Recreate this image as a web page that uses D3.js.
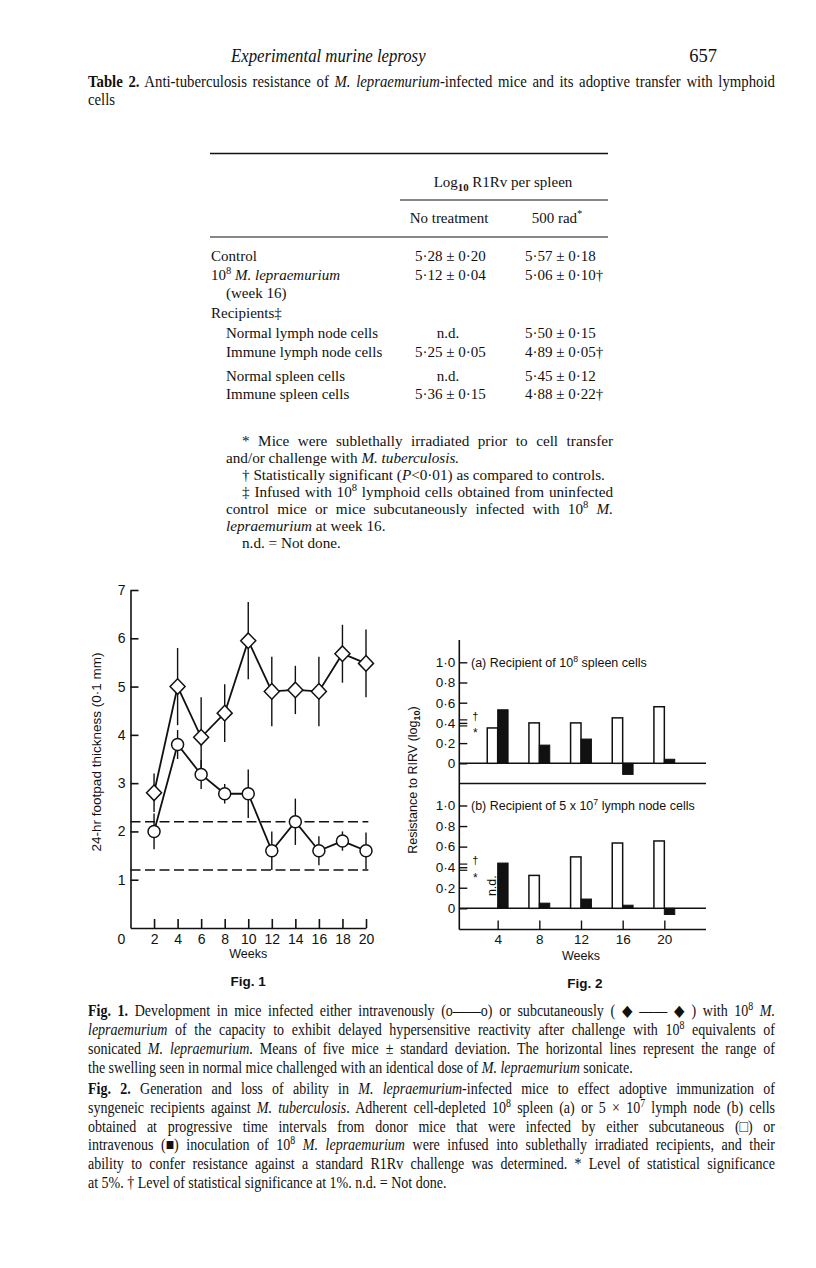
<!DOCTYPE html>
<html><head><meta charset="utf-8">
<script src="https://cdn.jsdelivr.net/npm/d3@7"></script>
<style>
html,body{margin:0;padding:0;background:#fff;}
svg{display:block;}
text{white-space:pre;}
</style></head>
<body><svg id="page" width="816" height="1268"></svg>
<script>
// ---------------- DATA ----------------
// Table 2
const tableRows = ["Control", "10^8 M. lepraemurium", "(week 16)", "Recipients‡", "Normal lymph node cells", "Immune lymph node cells", "Normal spleen cells", "Immune spleen cells"];
const colNoTreatment = ["5·28 ± 0·20", "5·12 ± 0·04", "", "", "n.d.", "5·25 ± 0·05", "n.d.", "5·36 ± 0·15"];
const col500rad = ["5·57 ± 0·18", "5·06 ± 0·10†", "", "", "5·50 ± 0·15", "4·89 ± 0·05†", "5·45 ± 0·12", "4·88 ± 0·22†"];

// Fig. 1 (24-hr footpad thickness, 0·1 mm)
const weeksFig1 = [2, 4, 6, 8, 10, 12, 14, 16, 18, 20];
const subcutMean = [2.8, 5.0, 3.95, 4.45, 5.95, 4.9, 4.93, 4.9, 5.68, 5.48];
const subcutSD   = [0.4, 0.8, 0.83, 0.6, 0.8, 0.72, 0.5, 0.72, 0.6, 0.7];
const ivMean     = [2.0, 3.8, 3.18, 2.78, 2.78, 1.6, 2.2, 1.6, 1.8, 1.6];
const ivSD       = [0.37, 0.3, 0.3, 0.2, 0.5, 0.4, 0.48, 0.3, 0.2, 0.38];
const normalRange = [1.2, 2.2];
const fig1YTicks = [1, 2, 3, 4, 5, 6, 7];
const fig1XTicks = [2, 4, 6, 8, 10, 12, 14, 16, 18, 20];

// Fig. 2 (resistance to R1Rv, log10)
const weeksFig2 = [4, 8, 12, 16, 20];
const spleenSubcut = [0.35, 0.40, 0.40, 0.45, 0.56];
const spleenIV     = [0.53, 0.18, 0.24, -0.11, 0.04];
const lymphSubcut  = [null, 0.32, 0.50, 0.635, 0.655];
const lymphIV      = [0.44, 0.05, 0.09, 0.03, -0.06];
const fig2YTicks = [0, 0.2, 0.4, 0.6, 0.8, 1.0];
const sigLevels = {dagger: 0.43, star: 0.37};

// ---------------- HELPERS ----------------
const svg = d3.select("#page");
const SERIF = "'Liberation Serif','Times New Roman',serif";
const SANS = "'Liberation Sans',Arial,sans-serif";

function rich(g, x, y, segs, o) {
  o = o || {};
  const size = o.size || 14;
  const sx = o.sx || 1;
  const t = g.append("text").attr("x", x / sx).attr("y", y)
    .style("font-family", o.family || SERIF).style("font-size", size + "px")
    .attr("text-anchor", o.anchor || "start").attr("fill", "#111");
  if (o.transform) t.attr("transform", o.transform);
  else if (sx !== 1) t.attr("transform", `scale(${sx},1)`);
  let shift = 0, full = "";
  segs.forEach(s => {
    const [str, c] = Array.isArray(s) ? s : [s, ""];
    full += str;
    const ts = t.append("tspan").text(str);
    if (c && c.includes("i")) ts.style("font-style", "italic");
    if (c && c.includes("b")) ts.style("font-weight", "bold");
    if (c === "sup") { const d = -size * 0.38; ts.attr("dy", d - shift).style("font-size", (size * 0.7) + "px"); shift = d; }
    else if (c === "sub") { const d = size * 0.25; ts.attr("dy", d - shift).style("font-size", (size * 0.72) + "px"); shift = d; }
    else if (shift !== 0) { ts.attr("dy", -shift); shift = 0; }
  });
  if (o.width) {
    const nat = t.node().getComputedTextLength();
    const n = (full.match(/ /g) || []).length;
    if (n > 0) t.style("word-spacing", ((o.width / sx - nat) / n) + "px");
  }
  return t;
}

// ---------------- PAGE HEADER ----------------
const head = svg.append("g");
rich(head, 231, 62, [["Experimental murine leprosy", "i"]], {size: 18, sx: 0.93});
rich(head, 717, 62, ["657"], {size: 18.5, anchor: "end"});

// ---------------- TABLE ----------------
const L = 88, R = 775;
const tg = svg.append("g");
rich(tg, L, 87, [["Table 2.", "b"], " Anti-tuberculosis resistance of ", ["M. lepraemurium", "i"], "-infected mice and its adoptive transfer with lymphoid"], {size: 17, sx: 0.87, width: R - L});
rich(tg, L, 105, ["cells"], {size: 17, sx: 0.87});

tg.append("line").attr("x1", 210).attr("x2", 608).attr("y1", 153.5).attr("y2", 153.5).attr("stroke", "#111").attr("stroke-width", 1.6);
rich(tg, 503, 187, ["Log", ["10", "sub"], " R1Rv per spleen"], {size: 15, anchor: "middle"});
tg.append("line").attr("x1", 400).attr("x2", 608).attr("y1", 200).attr("y2", 200).attr("stroke", "#111").attr("stroke-width", 1);
rich(tg, 449, 223, ["No treatment"], {size: 15, anchor: "middle"});
rich(tg, 557, 223, ["500 rad", ["*", "sup"]], {size: 15, anchor: "middle"});
tg.append("line").attr("x1", 210).attr("x2", 608).attr("y1", 237).attr("y2", 237).attr("stroke", "#111").attr("stroke-width", 1);

const rowY = [260.5, 279.5, 298, 318, 338, 356.5, 380.5, 399];
const indent = [0, 0, 1, 0, 1, 1, 1, 1];
tableRows.forEach((r, i) => {
  let segs;
  if (r.startsWith("10^8")) segs = ["10", ["8", "sup"], " ", ["M. lepraemurium", "i"]];
  else segs = [r];
  rich(tg, indent[i] ? 226 : 211, rowY[i], segs, {size: 15});
  const a = colNoTreatment[i];
  if (a === "n.d.") rich(tg, 448, rowY[i], [a], {size: 15, anchor: "middle"});
  else if (a) rich(tg, 415, rowY[i], [a], {size: 15});
  const b = col500rad[i];
  if (b) rich(tg, 525, rowY[i], [b], {size: 15});
});

// footnotes
const fg = svg.append("g");
const FS = 15.2, FL = 226, FI = 242, FR = 613;
rich(fg, FI, 446, ["* Mice were sublethally irradiated prior to cell transfer"], {size: FS, width: FR - FI});
rich(fg, FL, 463, ["and/or challenge with ", ["M. tuberculosis.", "i"]], {size: FS});
rich(fg, FI, 480, ["† Statistically significant (", ["P", "i"], "<0·01) as compared to controls."], {size: FS});
rich(fg, FI, 497, ["‡ Infused with 10", ["8", "sup"], " lymphoid cells obtained from uninfected"], {size: FS, width: FR - FI});
rich(fg, FL, 514, ["control mice or mice subcutaneously infected with 10", ["8", "sup"], " ", ["M.", "i"]], {size: FS, width: FR - FL});
rich(fg, FL, 531, [["lepraemurium", "i"], " at week 16."], {size: FS});
rich(fg, FI, 548, ["n.d. = Not done."], {size: FS});

// ---------------- FIG. 1 ----------------
const f1 = svg.append("g");
const x1 = d3.scaleLinear().domain([0, 20]).range([130.5, 366]);
const y1 = d3.scaleLinear().domain([0, 7]).range([928, 590]);

const ax1y = f1.append("g").attr("transform", `translate(${x1(0)},0)`)
  .call(d3.axisLeft(y1).tickValues(fig1YTicks).tickSize(-8).tickSizeOuter(0).tickPadding(5).tickFormat(d3.format("d")));
const ax1x = f1.append("g").attr("transform", `translate(0,${y1(0)})`)
  .call(d3.axisBottom(x1).tickValues(fig1XTicks).tickSize(-9).tickSizeOuter(0).tickPadding(6).tickFormat(d3.format("d")));
[ax1y, ax1x].forEach(a => {
  a.selectAll("path,line").attr("stroke", "#111").attr("stroke-width", 1.6);
  a.selectAll("text").style("font-family", SANS).style("font-size", "14px").attr("fill", "#111");
});
f1.append("text").attr("x", x1(0) - 9).attr("y", y1(0) + 6).attr("dy", "0.71em").attr("text-anchor", "middle")
  .style("font-family", SANS).style("font-size", "14px").attr("fill", "#111").text("0");

// normal range dashed lines
f1.selectAll(".range").data(normalRange).join("line")
  .attr("x1", x1(0)).attr("x2", x1(20.2)).attr("y1", d => y1(d)).attr("y2", d => y1(d))
  .attr("stroke", "#111").attr("stroke-width", 1.6).attr("stroke-dasharray", "10,4.5");

function series(mean, sd) {
  const pts = weeksFig1.map((w, i) => ({w, m: mean[i], s: sd[i]}));
  f1.append("g").selectAll("line").data(pts).join("line")
    .attr("x1", d => x1(d.w)).attr("x2", d => x1(d.w))
    .attr("y1", d => y1(d.m - d.s)).attr("y2", d => y1(d.m + d.s))
    .attr("stroke", "#111").attr("stroke-width", 1.4);
  f1.append("path").datum(pts).attr("fill", "none").attr("stroke", "#111").attr("stroke-width", 1.8)
    .attr("d", d3.line().x(d => x1(d.w)).y(d => y1(d.m)));
  return pts;
}
const sc = series(subcutMean, subcutSD);
const iv = series(ivMean, ivSD);
f1.append("g").selectAll("path").data(sc).join("path")
  .attr("transform", d => `translate(${x1(d.w)},${y1(d.m)})`)
  .attr("d", "M0,-7.8L7.5,0L0,7.8L-7.5,0Z").attr("fill", "#fff").attr("stroke", "#111").attr("stroke-width", 1.5);
f1.append("g").selectAll("circle").data(iv).join("circle")
  .attr("cx", d => x1(d.w)).attr("cy", d => y1(d.m)).attr("r", 6)
  .attr("fill", "#fff").attr("stroke", "#111").attr("stroke-width", 1.5);

rich(f1, 0, 0, ["24-hr footpad thickness (0·1 mm)"], {size: 13.5, family: SANS, anchor: "middle", transform: "translate(101,752) rotate(-90)"});
rich(f1, x1(10), 958, ["Weeks"], {size: 12.5, family: SANS, anchor: "middle"});
rich(f1, x1(10), 986, [["Fig. 1", "b"]], {size: 13.5, family: SANS, anchor: "middle"});

// ---------------- FIG. 2 ----------------
const f2 = svg.append("g");
const x2 = d3.scaleLinear().domain([0, 24]).range([456, 706]);
const ya = d3.scaleLinear().domain([0, 1]).range([763.3, 662.3]);
const yb = d3.scaleLinear().domain([0, 1]).range([908.3, 805.5]);
const axX = 459.3, baseY = 929.5, topY = 640;
const fmt2 = d => d === 0 ? "0" : d3.format(".1f")(d).replace(".", "·");

f2.append("line").attr("x1", axX).attr("x2", axX).attr("y1", topY).attr("y2", baseY).attr("stroke", "#111").attr("stroke-width", 1.6);
f2.append("line").attr("x1", axX).attr("x2", x2(24)).attr("y1", baseY).attr("y2", baseY).attr("stroke", "#111").attr("stroke-width", 1.6);
[ya(0), ya(-0.2), yb(0)].forEach(yy =>
  f2.append("line").attr("x1", axX).attr("x2", x2(24)).attr("y1", yy).attr("y2", yy).attr("stroke", "#111").attr("stroke-width", 1.4));

[ya, yb].forEach(ys => {
  const a = f2.append("g").attr("transform", `translate(${axX},0)`)
    .call(d3.axisLeft(ys).tickValues(fig2YTicks).tickSize(-8).tickPadding(4).tickFormat(fmt2));
  a.select(".domain").remove();
  a.selectAll("line").attr("stroke", "#111").attr("stroke-width", 1.4);
  a.selectAll("text").style("font-family", SANS).style("font-size", "13.5px").attr("fill", "#111");
  [sigLevels.dagger, sigLevels.star].forEach(v =>
    f2.append("line").attr("x1", axX).attr("x2", axX + 8).attr("y1", ys(v)).attr("y2", ys(v)).attr("stroke", "#111").attr("stroke-width", 1.2));
  f2.append("text").attr("x", axX + 16).attr("y", ys(0.47)).attr("dy", "0.35em").attr("text-anchor", "middle")
    .style("font-family", SANS).style("font-size", "11px").attr("fill", "#111").text("†");
  f2.append("text").attr("x", axX + 16).attr("y", ys(0.33)).attr("dy", "0.6em").attr("text-anchor", "middle")
    .style("font-family", SANS).style("font-size", "12px").attr("fill", "#111").text("*");
});

const axB = f2.append("g").attr("transform", `translate(0,${baseY})`)
  .call(d3.axisBottom(x2).tickValues(weeksFig2).tickSize(-9).tickPadding(5).tickFormat(d3.format("d")));
axB.select(".domain").remove();
axB.selectAll("line").attr("stroke", "#111").attr("stroke-width", 1.4);
axB.selectAll("text").style("font-family", SANS).style("font-size", "13.5px").attr("fill", "#111");

function bars(ys, open, filled) {
  const dOpen = weeksFig2.map((w, i) => ({w, v: open[i]})).filter(d => d.v !== null);
  const dFill = weeksFig2.map((w, i) => ({w, v: filled[i]}));
  f2.append("g").selectAll("rect").data(dOpen).join("rect")
    .attr("x", d => x2(d.w - 1)).attr("width", d => x2(d.w) - x2(d.w - 1))
    .attr("y", d => ys(Math.max(0, d.v))).attr("height", d => Math.abs(ys(d.v) - ys(0)))
    .attr("fill", "#fff").attr("stroke", "#111").attr("stroke-width", 1.5);
  f2.append("g").selectAll("rect").data(dFill).join("rect")
    .attr("x", d => x2(d.w)).attr("width", d => x2(d.w + 1) - x2(d.w))
    .attr("y", d => ys(Math.max(0, d.v))).attr("height", d => Math.abs(ys(d.v) - ys(0)))
    .attr("fill", "#111").attr("stroke", "#111").attr("stroke-width", 1);
}
bars(ya, spleenSubcut, spleenIV);
bars(yb, lymphSubcut, lymphIV);

rich(f2, 0, 0, ["n.d."], {size: 12.5, family: SANS, anchor: "middle", transform: `translate(${x2(3.5) + 4},${yb(0.22)}) rotate(-90)`});
rich(f2, 471, ya(1) + 4.5, ["(a) Recipient of 10", ["8", "sup"], " spleen cells"], {size: 12.5, family: SANS});
rich(f2, 471, yb(1) + 4.5, ["(b) Recipient of 5 x 10", ["7", "sup"], " lymph node cells"], {size: 12.5, family: SANS});
rich(f2, 0, 0, ["Resistance to RIRV (log", ["10", "sub"], ")"], {size: 12.5, family: SANS, anchor: "middle", transform: "translate(417,780) rotate(-90)"});
rich(f2, x2(12), 960, ["Weeks"], {size: 12.5, family: SANS, anchor: "middle"});
rich(f2, 585, 988, [["Fig. 2", "b"]], {size: 13.5, family: SANS, anchor: "middle"});

// ---------------- CAPTIONS ----------------
const cg = svg.append("g");
const CS = 16.5, CSX = 0.85, CW = R - L;
const cap = (y, segs, just) => rich(cg, L, y, segs, {size: CS, sx: CSX, width: just ? CW : 0});
cap(1016, [["Fig. 1.", "b"], " Development in mice infected either intravenously (o——o) or subcutaneously ( ◆ —— ◆ ) with 10", ["8", "sup"], " ", ["M.", "i"]], true);
cap(1035, [["lepraemurium", "i"], " of the capacity to exhibit delayed hypersensitive reactivity after challenge with 10", ["8", "sup"], " equivalents of"], true);
cap(1054, ["sonicated ", ["M. lepraemurium", "i"], ". Means of five mice ± standard deviation. The horizontal lines represent the range of"], true);
cap(1073, ["the swelling seen in normal mice challenged with an identical dose of ", ["M. lepraemurium", "i"], " sonicate."], false);
cap(1094, [["Fig. 2.", "b"], " Generation and loss of ability in ", ["M. lepraemurium", "i"], "-infected mice to effect adoptive immunization of"], true);
cap(1113, ["syngeneic recipients against ", ["M. tuberculosis", "i"], ". Adherent cell-depleted 10", ["8", "sup"], " spleen (a) or 5 × 10", ["7", "sup"], " lymph node (b) cells"], true);
cap(1132, ["obtained at progressive time intervals from donor mice that were infected by either subcutaneous (□) or"], true);
cap(1150.5, ["intravenous (■) inoculation of 10", ["8", "sup"], " ", ["M. lepraemurium", "i"], " were infused into sublethally irradiated recipients, and their"], true);
cap(1169, ["ability to confer resistance against a standard R1Rv challenge was determined. * Level of statistical significance"], true);
cap(1188, ["at 5%. † Level of statistical significance at 1%. n.d. = Not done."], false);
</script></body></html>
